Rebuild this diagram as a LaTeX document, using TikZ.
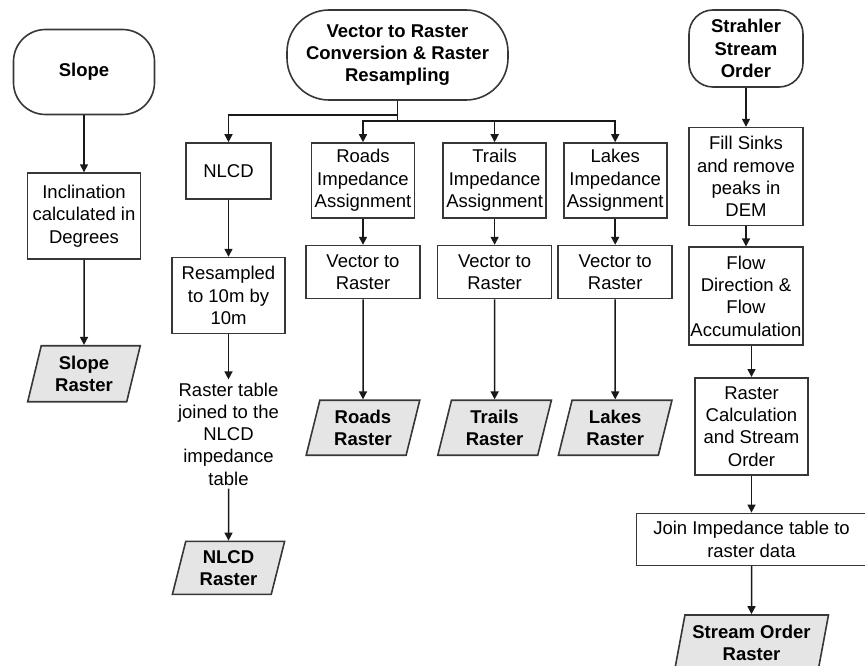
\documentclass[tikz,border=0pt]{standalone}
\usepackage{fontspec}
\setmainfont{Liberation Sans}
\usepackage{tikz}
\usetikzlibrary{positioning, arrows.meta, shapes.geometric}
\definecolor{edgegray}{RGB}{55, 55, 55}
\definecolor{rasterfill}{RGB}{229, 229, 229}

\begin{document}
\begin{tikzpicture}[
    x=1pt, y=1pt,
    term/.style={rectangle, draw=edgegray, line width=1.6pt, rounded corners=32pt, align=center, font=\fontsize{18.5}{22.3}\selectfont\bfseries, inner sep=2pt},
    proc/.style={rectangle, draw=edgegray, line width=1.6pt, align=center, font=\fontsize{18.5}{22.3}\selectfont, inner sep=1pt},
    plain/.style={align=center, font=\fontsize{18.5}{22.3}\selectfont, inner sep=3pt},
    rasterout/.style={trapezium, trapezium left angle=76, trapezium right angle=104, trapezium stretches=true, draw=edgegray, line width=1.6pt, fill=rasterfill, align=center, font=\fontsize{18.5}{22.3}\selectfont\bfseries, inner sep=1pt},
    arrow/.style={-{Triangle[length=8pt, width=8pt]}, line width=1.5pt, black!90},
    link/.style={line width=1.5pt, black!90}
]
    \useasboundingbox (0,0) rectangle (865,-666);

    % Slope
    \node[term, minimum width=141pt, minimum height=85pt] (slope) at (84,-72) {Slope};
    \node[proc, minimum width=113pt, minimum height=86pt, below=57pt of slope] (incl) {Inclination\\calculated in\\Degrees};
    \node[rasterout, minimum width=113pt, minimum height=56pt, below=85pt of incl] (sloperas) {Slope\\Raster};

    % Vector to Raster
    \node[term, rounded corners=42pt, minimum width=221pt, minimum height=90pt] (vec) at (397.5,-55) {Vector to Raster\\Conversion \& Raster\\Resampling};

    % NLCD
    \node[proc, minimum width=85pt, minimum height=56pt] (nlcd) at (228.5,-171) {NLCD};
    \node[proc, minimum width=113pt, minimum height=76pt, below=57pt of nlcd] (resamp) {Resampled\\to 10m by\\10m};
    \node[plain, below=45pt of resamp] (nlcdtab) {Raster table\\joined to the\\NLCD\\impedance\\table};
    \node[rasterout, minimum width=113pt, minimum height=53pt, below=52pt of nlcdtab] (nlcdras) {NLCD\\Raster};

    % Roads, Trails, Lakes
    \node[proc, minimum width=103pt, minimum height=75pt] (roadsimp) at (363,-180.5) {Roads\\Impedance\\Assignment};
    \node[proc, minimum width=103pt, minimum height=75pt, right=27pt of roadsimp] (trailsimp) {Trails\\Impedance\\Assignment};
    \node[proc, minimum width=103pt, minimum height=75pt, right=16pt of trailsimp] (lakesimp) {Lakes\\Impedance\\Assignment};

    \node[proc, minimum width=114pt, minimum height=53pt, below=26pt of roadsimp] (roadsv2r) {Vector to\\Raster};
    \node[proc, minimum width=114pt, minimum height=53pt, below=26pt of trailsimp] (trailsv2r) {Vector to\\Raster};
    \node[proc, minimum width=114pt, minimum height=53pt, below=26pt of lakesimp] (lakesv2r) {Vector to\\Raster};

    \node[rasterout, minimum width=114pt, minimum height=55pt, below=100pt of roadsv2r] (roadsras) {Roads\\Raster};
    \node[rasterout, minimum width=114pt, minimum height=55pt, below=100pt of trailsv2r] (trailsras) {Trails\\Raster};
    \node[rasterout, minimum width=114pt, minimum height=55pt, below=100pt of lakesv2r] (lakesras) {Lakes\\Raster};

    % Strahler Stream Order
    \node[term, rounded corners=24pt, minimum width=114pt, minimum height=77pt] (strahler) at (746,-48.5) {Strahler\\Stream\\Order};
    \node[proc, minimum width=114pt, minimum height=98pt, below=39pt of strahler] (fill) {Fill Sinks\\and remove\\peaks in\\DEM};
    \node[proc, minimum width=114pt, minimum height=98pt, below=20pt of fill] (flow) {Flow\\Direction \&\\Flow\\Accumulation};
    \node[proc, minimum width=113pt, minimum height=97pt, below=31pt of flow, xshift=5.5pt] (calc) {Raster\\Calculation\\and Stream\\Order};
    \node[proc, minimum width=230pt, minimum height=52pt, below=37pt of calc] (join) {Join Impedance table to\\raster data};
    \node[rasterout, minimum width=154pt, minimum height=56pt, below=48pt of join] (streamras) {Stream Order\\Raster};

    % Arrows
    \draw[arrow] (slope) -- (incl);
    \draw[arrow] (incl) -- (sloperas);

    \draw[link] (vec.south) -- ++(0,-20) coordinate (junc);
    \draw[arrow] ([yshift=-14pt]vec.south) -| (nlcd.north);
    \draw[arrow] (junc) -| (roadsimp.north);
    \draw[arrow] (junc) -| (trailsimp.north);
    \draw[arrow] (junc) -| (lakesimp.north);

    \draw[arrow] (nlcd) -- (resamp);
    \draw[arrow] (resamp) -- (nlcdtab);
    \draw[arrow] (nlcdtab) -- (nlcdras);

    \draw[arrow] (roadsimp) -- (roadsv2r);
    \draw[arrow] (trailsimp) -- (trailsv2r);
    \draw[arrow] (lakesimp) -- (lakesv2r);
    \draw[arrow] (roadsv2r) -- (roadsras);
    \draw[arrow] (trailsv2r) -- (trailsras);
    \draw[arrow] (lakesv2r) -- (lakesras);

    \draw[arrow] (strahler) -- (fill);
    \draw[arrow] (fill) -- (flow);
    \draw[arrow] (flow.south -| calc.north) -- (calc.north);
    \draw[arrow] (calc) -- (join);
    \draw[arrow] (join) -- (streamras);
\end{tikzpicture}
\end{document}
